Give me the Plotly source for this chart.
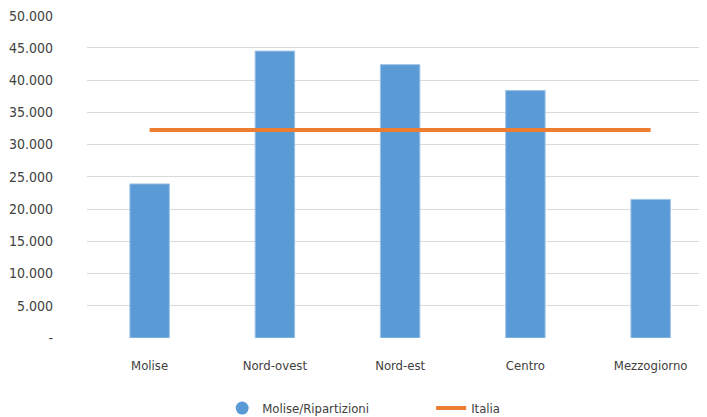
import plotly.graph_objects as go

categories = ["Molise", "Nord-ovest", "Nord-est", "Centro", "Mezzogiorno"]
bar_values = [23900, 44500, 42400, 38400, 21500]
italia_values = [32250, 32250, 32250, 32250, 32250]
tick_vals = [0, 5000, 10000, 15000, 20000, 25000, 30000, 35000, 40000, 45000, 50000]
tick_text = ["-", "5.000", "10.000", "15.000", "20.000", "25.000", "30.000",
             "35.000", "40.000", "45.000", "50.000"]

FONT = "DejaVu Sans Condensed, DejaVu Sans, sans-serif"
BLUE = "#5B9BD5"
ORANGE = "#ED7D31"

fig = go.Figure()
fig.add_trace(go.Bar(
    x=categories, y=bar_values, name="Molise/Ripartizioni",
    marker=dict(color=BLUE, line=dict(color="#9DC3E6", width=1)),
    width=0.315, showlegend=False,
))
fig.add_trace(go.Scatter(
    x=[None], y=[None], mode="markers", name="Molise/Ripartizioni",
    marker=dict(color=BLUE, size=13, symbol="circle"), showlegend=True,
))
fig.add_trace(go.Scatter(
    x=categories, y=italia_values, mode="lines", name="Italia",
    line=dict(color=ORANGE, width=4),
))

# page body has an 8px default margin, so the figure is 8px smaller
fig.update_layout(
    width=699, height=409,
    margin=dict(l=79, r=0, t=7, b=79, autoexpand=False),
    paper_bgcolor="white", plot_bgcolor="white",
    font=dict(family=FONT, size=13, color="#404040"),
    showlegend=True,
    legend=dict(orientation="h", x=0.218, xanchor="left", y=-0.217, yanchor="middle",
                font=dict(size=13, color="#404040"),
                entrywidthmode="pixels", entrywidth=164,
                traceorder="normal"),
    xaxis=dict(showgrid=False, showline=False, zeroline=False, ticks="",
               tickfont=dict(size=13), range=[-0.5, 4.45],
               ticklabelstandoff=18, automargin=False),
    yaxis=dict(range=[0, 50100], tickvals=tick_vals, ticktext=tick_text,
               showgrid=True, gridcolor="#D9D9D9", gridwidth=1,
               zeroline=False, showline=False, ticks="",
               tickfont=dict(size=14), ticklabelstandoff=33, automargin=False,
               ticklabeloverflow="allow"),
)

fig.write_html("out.html")
